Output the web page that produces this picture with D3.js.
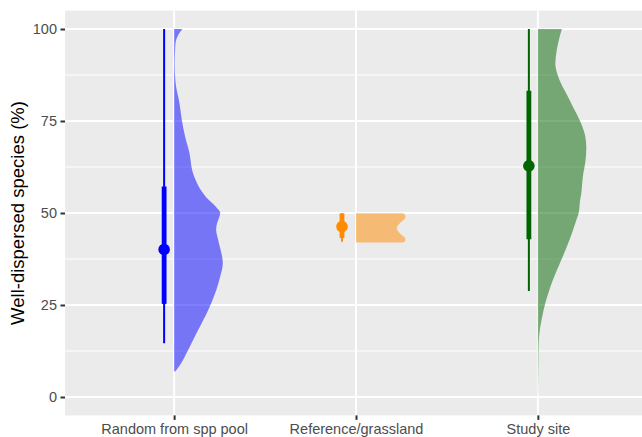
<!DOCTYPE html>
<html>
<head>
<meta charset="utf-8">
<script src="https://cdn.jsdelivr.net/npm/d3@7"></script>
<style>
  body { margin: 0; background: #fff; }
  svg { display: block; font-family: "Liberation Sans", Arial, sans-serif; }
</style>
</head>
<body>
<div id="chart"></div>
<script>
var groups = ["Random from spp pool", "Reference/grassland", "Study site"];
var colors = ["#0000ff", "#ff8c00", "#006400"];

// point + intervals (median, 66% and 95%)
var medians = [40.1, 46.3, 62.8];
var innerLo = [25.3, 43.2, 42.9];
var innerHi = [57.2, 49.9, 83.2];
var outerLo = [14.6, 42.2, 28.8];
var outerHi = [100, 49.9, 100];

// density slabs, [value, relative density]
var densRandom = [[100, 0.17], [99, 0.11], [97, 0.04], [94.3, 0.02], [88.9, 0.014], [84.3, 0.04],
    [79.9, 0.106], [75.3, 0.154], [70.7, 0.22], [66.3, 0.306], [61.7, 0.36], [59, 0.43],
    [56.3, 0.53], [54.3, 0.64], [52.7, 0.76], [51.3, 0.86], [50.2, 0.92], [48.8, 0.9],
    [47.3, 0.86], [45.4, 0.84], [42.7, 0.88], [36.4, 0.974], [32.7, 0.92], [28.2, 0.82],
    [23.6, 0.68], [18.2, 0.48], [12.8, 0.28], [9.2, 0.14], [6.9, 0.02]];
var densReference = [[49.9, 0.94], [49.5, 0.98], [48.6, 0.98], [47.3, 0.88], [45.9, 0.814],
    [44.4, 0.88], [43.2, 0.98], [42.4, 0.98], [42.0, 0.94]];
var densStudy = [[100, 0.48], [97, 0.42], [93.4, 0.368], [89.8, 0.354], [86.1, 0.434],
    [82.5, 0.568], [78.9, 0.70], [75.3, 0.834], [71.7, 0.934], [68.0, 0.968], [64.4, 0.954],
    [59.9, 0.90], [55.3, 0.868], [53.5, 0.845], [49.9, 0.815], [48.1, 0.77], [42.7, 0.634],
    [37.2, 0.468], [31.8, 0.30], [26.4, 0.168], [22.7, 0.10], [19.1, 0.048], [15.5, 0.02],
    [10, 0.012], [0.5, 0.006]];
var densities = [densRandom, densReference, densStudy];

var yTicks = [0, 25, 50, 75, 100];
var yMinor = [12.5, 37.5, 62.5, 87.5];

var width = 642, height = 437;
var panel = {left: 65, right: 647, top: 10.6, bottom: 415.4};
var nudge = [-10, -14, -9];

var svg = d3.select("#chart").append("svg")
    .attr("width", width)
    .attr("height", height);

var x = d3.scalePoint()
    .domain(groups)
    .range([panel.left, panel.right])
    .padding(0.6);

var y = d3.scaleLinear()
    .domain([-5, 105])
    .range([panel.bottom, panel.top]);

var thick = d3.scaleLinear()
    .domain([0, 1])
    .range([0, 50]);

// panel
svg.append("rect")
    .attr("x", panel.left)
    .attr("y", panel.top)
    .attr("width", panel.right - panel.left)
    .attr("height", panel.bottom - panel.top)
    .attr("fill", "#ebebeb");

svg.selectAll("line.minor")
    .data(yMinor)
    .enter()
    .append("line")
    .attr("class", "minor")
    .attr("x1", panel.left).attr("x2", panel.right)
    .attr("y1", d => y(d)).attr("y2", d => y(d))
    .attr("stroke", "#fff")
    .attr("stroke-width", 1);

svg.selectAll("line.major")
    .data(yTicks)
    .enter()
    .append("line")
    .attr("class", "major")
    .attr("x1", panel.left).attr("x2", panel.right)
    .attr("y1", d => y(d)).attr("y2", d => y(d))
    .attr("stroke", "#fff")
    .attr("stroke-width", 2);

svg.selectAll("line.vmajor")
    .data(groups)
    .enter()
    .append("line")
    .attr("class", "vmajor")
    .attr("x1", d => x(d)).attr("x2", d => x(d))
    .attr("y1", panel.top).attr("y2", panel.bottom)
    .attr("stroke", "#fff")
    .attr("stroke-width", 2);

// slabs
var area = d3.area()
    .curve(d3.curveCatmullRom)
    .y(d => y(d[0]));

groups.forEach(function(g, i) {
    var base = x(g);
    svg.append("path")
        .datum(densities[i])
        .attr("d", area.x0(base).x1(d => base + thick(d[1])))
        .attr("fill", colors[i])
        .attr("fill-opacity", 0.5);
});

// intervals
groups.forEach(function(g, i) {
    var cx = x(g) + nudge[i];
    svg.append("line")
        .attr("x1", cx).attr("x2", cx)
        .attr("y1", y(outerLo[i])).attr("y2", y(outerHi[i]))
        .attr("stroke", colors[i])
        .attr("stroke-width", 2);
    svg.append("line")
        .attr("x1", cx).attr("x2", cx)
        .attr("y1", y(innerLo[i])).attr("y2", y(innerHi[i]))
        .attr("stroke", colors[i])
        .attr("stroke-width", 4.8);
    svg.append("circle")
        .attr("cx", cx)
        .attr("cy", y(medians[i]))
        .attr("r", 5.8)
        .attr("fill", colors[i]);
});

// axes
var yAxis = svg.append("g")
    .attr("transform", "translate(" + panel.left + ",0)")
    .call(d3.axisLeft(y).tickValues(yTicks).tickSize(4.5).tickPadding(3.5));
var xAxis = svg.append("g")
    .attr("transform", "translate(0," + panel.bottom + ")")
    .call(d3.axisBottom(x).tickSize(4.5).tickPadding(4));

[yAxis, xAxis].forEach(function(a) {
    a.select(".domain").remove();
    a.selectAll(".tick line").attr("stroke", "#333333").attr("stroke-width", 2);
    a.selectAll(".tick text")
        .attr("fill", "#4d4d4d")
        .style("font-size", "14.5px")
        .style("font-family", "Liberation Sans, Arial, sans-serif");
});

svg.append("text")
    .attr("transform", "translate(24," + ((panel.top + panel.bottom) / 2) + ") rotate(-90)")
    .attr("text-anchor", "middle")
    .attr("fill", "#000")
    .style("font-size", "18.5px")
    .text("Well-dispersed species (%)");
</script>
</body>
</html>
